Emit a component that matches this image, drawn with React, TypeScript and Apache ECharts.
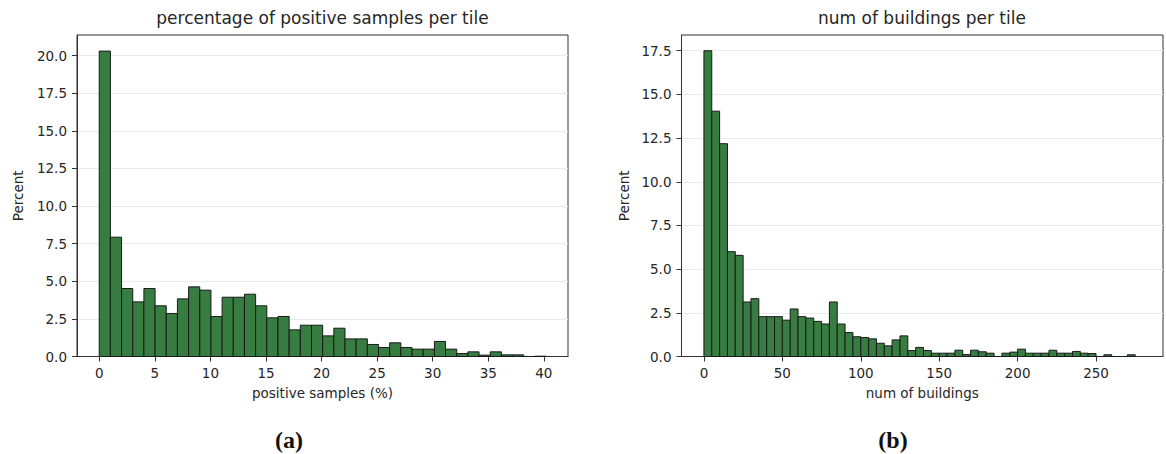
import React, { useEffect, useRef } from "react";
import * as echarts from "echarts";

// ---- data (percent of tiles per bin) ----
const leftBinWidth = 1.005; // positive samples (%) per bin
const leftPercents = [
  20.3, 7.93, 4.52, 3.63, 4.52, 3.37, 2.86, 3.83, 4.63, 4.41,
  2.66, 3.94, 3.94, 4.14, 3.37, 2.57, 2.66, 1.77, 2.08, 2.08,
  1.37, 1.88, 1.17, 1.17, 0.8, 0.6, 0.91, 0.6, 0.49, 0.49,
  1.0, 0.49, 0.2, 0.31, 0.09, 0.31, 0.11, 0.11, 0, 0.02,
];
const rightBinWidth = 5.0; // buildings per bin
const rightPercents = [
  17.5, 14.04, 12.18, 6.0, 5.79, 3.12, 3.31, 2.28, 2.28, 2.28,
  2.08, 2.72, 2.28, 2.2, 2.01, 1.86, 3.12, 1.86, 1.37, 1.13,
  1.09, 1.01, 0.76, 0.61, 0.95, 1.18, 0.34, 0.52, 0.34, 0.19,
  0.19, 0.19, 0.36, 0.11, 0.36, 0.27, 0.19, 0, 0.19, 0.25,
  0.42, 0.19, 0.19, 0.19, 0.36, 0.19, 0.19, 0.29, 0.19, 0.17,
  0, 0.1, 0, 0, 0.1,
];
const leftXTicks = [0, 5, 10, 15, 20, 25, 30, 35, 40];
const rightXTicks = [0, 50, 100, 150, 200, 250];
const leftYTicks = [0, 2.5, 5, 7.5, 10, 12.5, 15, 17.5, 20];
const rightYTicks = [0, 2.5, 5, 7.5, 10, 12.5, 15, 17.5];

const leftTitle = "percentage of positive samples per tile";
const rightTitle = "num of buildings per tile";
const leftXName = "positive samples (%)";
const rightXName = "num of buildings";
const yName = "Percent";

const FONT = "DejaVu Sans";
const TEXT = "#262626";
const SPINE = "#333333";
const FILL = "#377c40";
const EDGE = "#1a1a1a";

function toBins(vals: number[], w: number) {
  return vals.map((v, i) => [i * w, (i + 1) * w, v]);
}

function renderBar(params: any, api: any) {
  const p0 = api.coord([api.value(0), api.value(2)]);
  const p1 = api.coord([api.value(1), 0]);
  return {
    type: "rect",
    shape: { x: p0[0], y: p0[1], width: p1[0] - p0[0], height: p1[1] - p0[1] },
    style: { fill: FILL, stroke: EDGE, lineWidth: 1 },
  };
}

function xAxis(gridIndex: number, min: number, max: number, ticks: number[], name: string) {
  return {
    type: "value",
    gridIndex,
    min,
    max,
    name,
    nameLocation: "middle",
    nameGap: 29,
    nameTextStyle: { fontFamily: FONT, fontSize: 13.5, color: TEXT },
    axisLine: { show: true, onZero: false, lineStyle: { color: SPINE, width: 1 } },
    axisTick: { show: true, length: 5, customValues: ticks, lineStyle: { color: SPINE } },
    axisLabel: {
      customValues: ticks,
      margin: 9,
      fontFamily: FONT,
      fontSize: 13.5,
      color: TEXT,
      formatter: (v: number) => String(v),
    },
    splitLine: { show: false },
  };
}

function yAxis(gridIndex: number, max: number, ticks: number[], gap: number) {
  return {
    type: "value",
    gridIndex,
    min: 0,
    max,
    interval: 2.5,
    name: yName,
    nameLocation: "middle",
    nameGap: gap,
    nameTextStyle: { fontFamily: FONT, fontSize: 13.5, color: TEXT },
    axisLine: { show: true, onZero: false, lineStyle: { color: SPINE, width: 1 } },
    axisTick: { show: true, length: 5, customValues: ticks, lineStyle: { color: SPINE } },
    axisLabel: {
      customValues: ticks,
      margin: 10,
      fontFamily: FONT,
      fontSize: 13.5,
      color: TEXT,
      formatter: (v: number) => v.toFixed(1),
    },
    splitLine: { show: true, lineStyle: { color: "#ebebeb", width: 1 } },
  };
}

export default function App() {
  const ref = useRef<HTMLDivElement>(null);
  useEffect(() => {
    if (!ref.current) return;
    const chart = echarts.init(ref.current, null, { renderer: "svg" });
    chart.setOption({
      animation: false,
      backgroundColor: "#ffffff",
      grid: [
        { left: 77, top: 35, width: 491, height: 321.5, show: true, borderColor: SPINE, borderWidth: 1, backgroundColor: "transparent" },
        { left: 681.5, top: 35, width: 481.5, height: 321.5, show: true, borderColor: SPINE, borderWidth: 1, backgroundColor: "transparent" },
      ],
      xAxis: [
        xAxis(0, -2.0, 42.17, leftXTicks, leftXName),
        xAxis(1, -14.3, 292.7, rightXTicks, rightXName),
      ],
      yAxis: [yAxis(0, 21.37, leftYTicks, 52), yAxis(1, 18.4, rightYTicks, 51)],
      series: [
        {
          type: "custom",
          xAxisIndex: 0,
          yAxisIndex: 0,
          renderItem: renderBar,
          encode: { x: [0, 1], y: 2 },
          data: toBins(leftPercents, leftBinWidth),
        },
        {
          type: "custom",
          xAxisIndex: 1,
          yAxisIndex: 1,
          renderItem: renderBar,
          encode: { x: [0, 1], y: 2 },
          data: toBins(rightPercents, rightBinWidth),
        },
      ],
      graphic: [
        {
          type: "text",
          x: 322.5,
          y: 18,
          style: { text: leftTitle, fontFamily: FONT, fontSize: 17, fill: TEXT, align: "center", verticalAlign: "middle" },
        },
        {
          type: "text",
          x: 922,
          y: 18,
          style: { text: rightTitle, fontFamily: FONT, fontSize: 17, fill: TEXT, align: "center", verticalAlign: "middle" },
        },
        {
          type: "text",
          x: 289,
          y: 440,
          style: { text: "(a)", fontFamily: "Liberation Serif", fontWeight: "bold", fontSize: 24, fill: "#111", align: "center", verticalAlign: "middle" },
        },
        {
          type: "text",
          x: 893,
          y: 440,
          style: { text: "(b)", fontFamily: "Liberation Serif", fontWeight: "bold", fontSize: 24, fill: "#111", align: "center", verticalAlign: "middle" },
        },
      ],
    });
    return () => chart.dispose();
  }, []);
  return (
    <div
      ref={ref}
      style={{ position: "fixed", left: 0, top: 0, width: 1166, height: 454, background: "#fff" }}
    />
  );
}
